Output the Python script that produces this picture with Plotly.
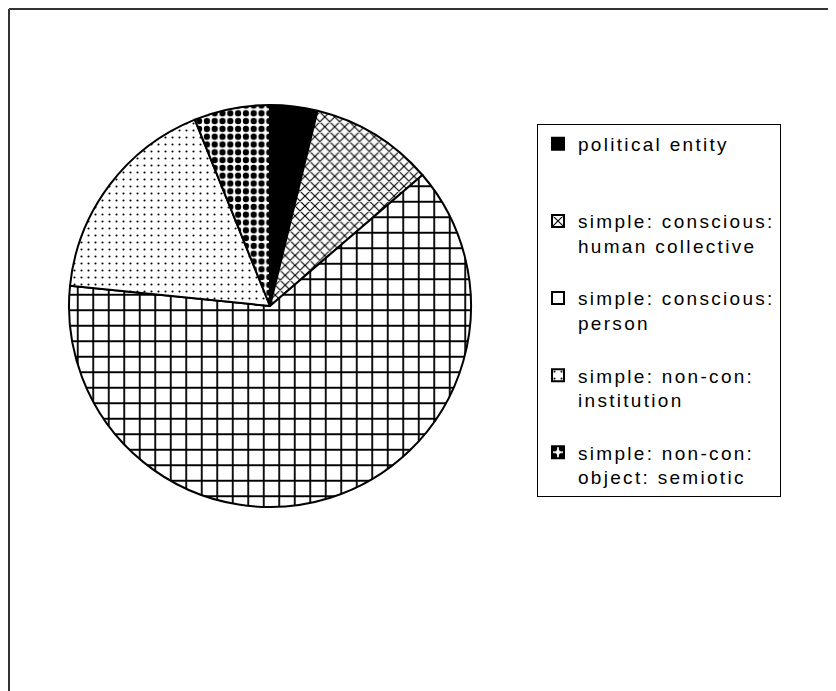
import plotly.graph_objects as go

categories = [
    "political entity",
    "simple: conscious:|human collective",
    "simple: conscious:|person",
    "simple: non-con:|institution",
    "simple: non-con:|object: semiotic",
]
values = [3.8, 9.9, 62.9, 17.3, 6.1]

slice_colors = ["black", "white", "white", "white", "white"]
pattern_shapes = ["", "x", "+", ".", "."]
pattern_sizes = [8, 7, 15.5, 7, 7.8]
pattern_solid = [0.3, 0.3, 0.22, 0.07, 0.5]


def legend_text(cat, n_lines):
    lines = cat.split("|")
    while len(lines) < n_lines:
        lines.append("\u00a0")
    return "<br>".join(
        f"<span style='letter-spacing:2.3px'>{ln}</span>" for ln in lines
    )


labels = [
    legend_text(c, 3 if i < len(categories) - 1 else 2)
    for i, c in enumerate(categories)
]

# page has an 8px body margin; figure sized to fill the 836x691 window
W, H = 828, 683
cx, cy, r = 262, 298, 201

fig = go.Figure(
    go.Pie(
        labels=labels,
        values=values,
        sort=False,
        direction="clockwise",
        rotation=0,
        textinfo="none",
        hoverinfo="skip",
        domain=dict(
            x=[(cx - r) / W, (cx + r) / W],
            y=[(H - cy - r) / H, (H - cy + r) / H],
        ),
        marker=dict(
            colors=slice_colors,
            line=dict(color="black", width=2),
            pattern=dict(
                shape=pattern_shapes,
                fgcolor="black",
                bgcolor="white",
                size=pattern_sizes,
                solidity=pattern_solid,
                fillmode="replace",
            ),
        ),
    )
)

fig.update_layout(
    width=W,
    height=H,
    margin=dict(l=0, r=0, t=0, b=0),
    paper_bgcolor="white",
    plot_bgcolor="white",
    font=dict(family="Arial, Liberation Sans, sans-serif", size=19, color="black"),
    showlegend=True,
    legend=dict(
        x=529 / W,
        y=1 - 116 / H,
        xanchor="left",
        yanchor="top",
        bordercolor="black",
        borderwidth=1,
        bgcolor="white",
        valign="top",
        font=dict(family="Arial, Liberation Sans, sans-serif", size=19, color="black"),
    ),
    shapes=[
        dict(type="line", xref="paper", yref="paper",
             x0=1 / W, x1=1.0, y0=1 - 1 / H, y1=1 - 1 / H,
             line=dict(color="#333333", width=2)),
        dict(type="line", xref="paper", yref="paper",
             x0=1 / W, x1=1 / W, y0=0.0, y1=1 - 1 / H,
             line=dict(color="#333333", width=2)),
    ],
)

fig.write_html("out.html")
